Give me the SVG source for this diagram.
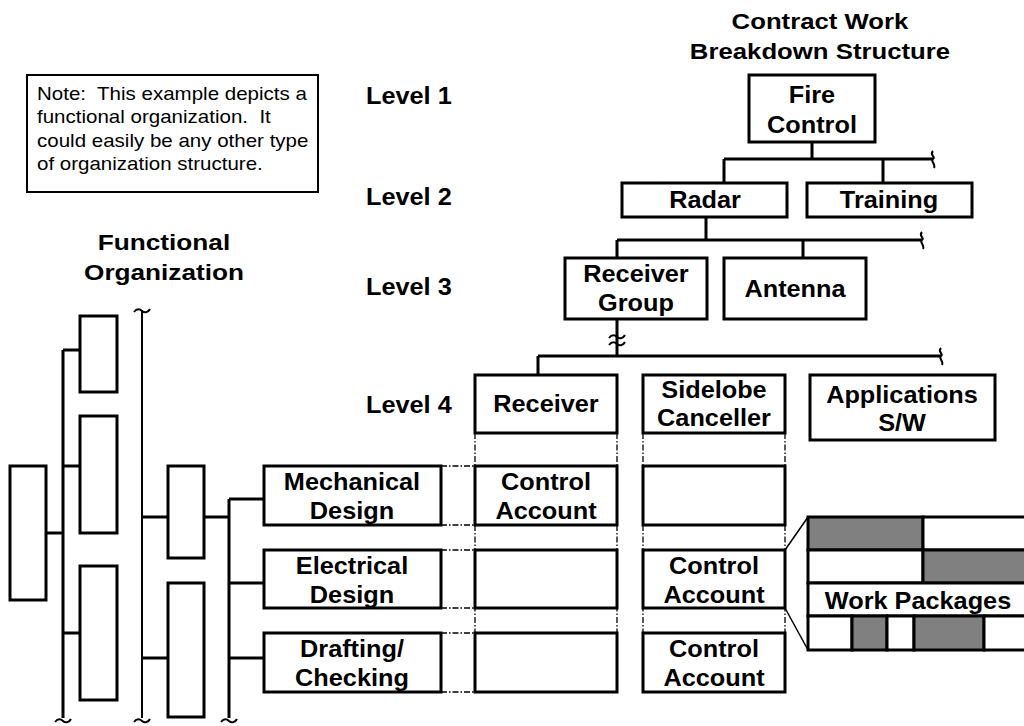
<svg xmlns="http://www.w3.org/2000/svg" width="1024" height="726" viewBox="0 0 1024 726">
<style>
.bx{fill:#fff;stroke:#000;stroke-width:3}
.nb{fill:#fff;stroke:#000;stroke-width:2}
.ln{fill:none;stroke:#000;stroke-width:3}
.tn{fill:none;stroke:#000;stroke-width:2}
.sq{fill:none;stroke:#000;stroke-width:2}
.dd{fill:none;stroke:#000;stroke-width:1.3;stroke-dasharray:6 2 1.5 2}
.gr{fill:#808080;stroke:#000;stroke-width:3}
.wp{fill:#fff;stroke:#000;stroke-width:3}
.t{font-family:"Liberation Sans",Arial,sans-serif;font-weight:bold;font-size:23px;text-anchor:middle}
.h{font-family:"Liberation Sans",Arial,sans-serif;font-weight:bold;font-size:22px;text-anchor:middle}
.lv{font-family:"Liberation Sans",Arial,sans-serif;font-weight:bold;font-size:23px}
.nt{font-family:"Liberation Sans",Arial,sans-serif;font-size:18px}
</style>
<rect width="1024" height="726" fill="#fff"/>

<!-- connectors -->
<g id="connectors">
  <!-- WBS -->
  <path class="ln" d="M812,142V159M724,159H933M724,159V183M883,159V183"/>
  <path class="sq" d="M933,151c-4,4 3,6 0,8c-3,2 3,5 1,9"/>
  <path class="ln" d="M706,217V240M617,240H922M617,240V258M803,240V258"/>
  <path class="sq" d="M922,232c-4,4 3,6 0,8c-3,2 3,5 1,9"/>
  <path class="ln" d="M617,319V356M538,356H941M538,356V375"/>
  <path class="sq" d="M609,338c3,-4 6,-3 8,-1s6,2 8,-2M609,345c3,-4 6,-3 8,-1s6,2 8,-2"/>
  <path class="sq" d="M941,348c-4,4 3,6 0,8c-3,2 3,5 1,9"/>
  <!-- dash-dot guides -->
  <path class="dd" d="M475,433V692M617,433V692M643,433V692M785,433V692"/>
  <path class="dd" d="M441,466H475M441,525H475M441,550H475M441,608H475M441,633H475M441,692H475"/>
  <!-- work package callout -->
  <path fill="none" stroke="#000" stroke-width="1.5" d="M785,550L808,517M785,608L808,650"/>
  <!-- functional organization -->
  <path class="ln" d="M46,533H63M63,350V718M63,350H80M63,466H80M63,633H80"/>
  <path class="tn" d="M142,310V718"/>
  <path class="ln" d="M142,517H168M142,658H168M204,517H229M229,499V718M229,499H264M229,583H264M229,658H264"/>
  <path class="sq" d="M134,312c3,-4 6,-3 8,-1s6,2 8,-2"/>
  <path class="sq" d="M55,722c3,-4 6,-3 8,-1s6,2 8,-2M134,722c3,-4 6,-3 8,-1s6,2 8,-2M221,722c3,-4 6,-3 8,-1s6,2 8,-2"/>
</g>

<!-- note -->
<g id="note">
  <rect class="nb" x="27" y="75" width="291" height="117"/>
  <text class="nt" xml:space="preserve" transform="translate(37,100) scale(1.14,1)">Note:  This example depicts a</text>
  <text class="nt" xml:space="preserve" transform="translate(37,123) scale(1.14,1)">functional organization.  It</text>
  <text class="nt" transform="translate(37,147) scale(1.14,1)">could easily be any other type</text>
  <text class="nt" transform="translate(37,170) scale(1.14,1)">of organization structure.</text>
</g>

<!-- titles -->
<g id="title-cwbs">
  <text class="h" transform="translate(820,29) scale(1.17,1)">Contract Work</text>
  <text class="h" transform="translate(820,59) scale(1.17,1)">Breakdown Structure</text>
</g>
<g id="title-func">
  <text class="h" transform="translate(164,250) scale(1.19,1)">Functional</text>
  <text class="h" transform="translate(164,280) scale(1.19,1)">Organization</text>
</g>

<!-- levels -->
<g id="levels">
  <text class="lv" transform="translate(366,104) scale(1.1,1)">Level 1</text>
  <text class="lv" transform="translate(366,205) scale(1.1,1)">Level 2</text>
  <text class="lv" transform="translate(366,295) scale(1.1,1)">Level 3</text>
  <text class="lv" transform="translate(366,413) scale(1.1,1)">Level 4</text>
</g>

<!-- WBS nodes -->
<g id="fire-control">
  <rect class="bx" x="749" y="75" width="126" height="67"/>
  <text class="t" transform="translate(812,103) scale(1.1,1)">Fire</text>
  <text class="t" transform="translate(812,133) scale(1.1,1)">Control</text>
</g>
<g id="radar">
  <rect class="bx" x="622" y="183" width="165" height="34"/>
  <text class="t" transform="translate(705,208) scale(1.1,1)">Radar</text>
</g>
<g id="training">
  <rect class="bx" x="807" y="183" width="165" height="34"/>
  <text class="t" transform="translate(889,208) scale(1.1,1)">Training</text>
</g>
<g id="receiver-group">
  <rect class="bx" x="565" y="258" width="142" height="61"/>
  <text class="t" transform="translate(636,282) scale(1.1,1)">Receiver</text>
  <text class="t" transform="translate(636,311) scale(1.1,1)">Group</text>
</g>
<g id="antenna">
  <rect class="bx" x="724" y="258" width="142" height="61"/>
  <text class="t" transform="translate(795,297) scale(1.1,1)">Antenna</text>
</g>
<g id="receiver">
  <rect class="bx" x="475" y="375" width="142" height="58"/>
  <text class="t" transform="translate(546,412) scale(1.1,1)">Receiver</text>
</g>
<g id="sidelobe-canceller">
  <rect class="bx" x="643" y="375" width="142" height="58"/>
  <text class="t" transform="translate(714,398) scale(1.1,1)">Sidelobe</text>
  <text class="t" transform="translate(714,426) scale(1.1,1)">Canceller</text>
</g>
<g id="applications-sw">
  <rect class="bx" x="810" y="375" width="185" height="65"/>
  <text class="t" transform="translate(902,403) scale(1.1,1)">Applications</text>
  <text class="t" transform="translate(902,431) scale(1.1,1)">S/W</text>
</g>

<!-- functional departments -->
<g id="mechanical-design">
  <rect class="bx" x="264" y="466" width="177" height="59"/>
  <text class="t" transform="translate(352,490) scale(1.1,1)">Mechanical</text>
  <text class="t" transform="translate(352,519) scale(1.1,1)">Design</text>
</g>
<g id="electrical-design">
  <rect class="bx" x="264" y="550" width="177" height="58"/>
  <text class="t" transform="translate(352,574) scale(1.1,1)">Electrical</text>
  <text class="t" transform="translate(352,603) scale(1.1,1)">Design</text>
</g>
<g id="drafting-checking">
  <rect class="bx" x="264" y="633" width="177" height="59"/>
  <text class="t" transform="translate(352,657) scale(1.1,1)">Drafting/</text>
  <text class="t" transform="translate(352,686) scale(1.1,1)">Checking</text>
</g>

<!-- control account grid -->
<g id="ca-receiver-mech">
  <rect class="bx" x="475" y="466" width="142" height="59"/>
  <text class="t" transform="translate(546,490) scale(1.1,1)">Control</text>
  <text class="t" transform="translate(546,519) scale(1.1,1)">Account</text>
</g>
<g id="ca-receiver-elec"><rect class="bx" x="475" y="550" width="142" height="58"/></g>
<g id="ca-receiver-draft"><rect class="bx" x="475" y="633" width="142" height="59"/></g>
<g id="ca-sidelobe-mech"><rect class="bx" x="643" y="466" width="142" height="59"/></g>
<g id="ca-sidelobe-elec">
  <rect class="bx" x="643" y="550" width="142" height="58"/>
  <text class="t" transform="translate(714,574) scale(1.1,1)">Control</text>
  <text class="t" transform="translate(714,603) scale(1.1,1)">Account</text>
</g>
<g id="ca-sidelobe-draft">
  <rect class="bx" x="643" y="633" width="142" height="59"/>
  <text class="t" transform="translate(714,657) scale(1.1,1)">Control</text>
  <text class="t" transform="translate(714,686) scale(1.1,1)">Account</text>
</g>

<!-- work packages -->
<g id="work-packages">
  <rect class="gr" x="808" y="517" width="115" height="33"/>
  <rect class="wp" x="923" y="517" width="110" height="33"/>
  <rect class="wp" x="808" y="550" width="115" height="33"/>
  <rect class="gr" x="923" y="550" width="110" height="33"/>
  <rect class="wp" x="808" y="583" width="225" height="33"/>
  <text class="t" transform="translate(918,609) scale(1.1,1)">Work Packages</text>
  <rect class="wp" x="808" y="616" width="44" height="34"/>
  <rect class="gr" x="852" y="616" width="35" height="34"/>
  <rect class="wp" x="887" y="616" width="27" height="34"/>
  <rect class="gr" x="914" y="616" width="70" height="34"/>
  <rect class="wp" x="984" y="616" width="49" height="34"/>
</g>

<!-- functional organization boxes -->
<g id="org-head"><rect class="bx" x="10" y="466" width="36" height="134"/></g>
<g id="org-a"><rect class="bx" x="80" y="316" width="37" height="76"/></g>
<g id="org-b"><rect class="bx" x="80" y="416" width="37" height="117"/></g>
<g id="org-c"><rect class="bx" x="80" y="566" width="37" height="134"/></g>
<g id="org-d"><rect class="bx" x="168" y="466" width="36" height="92"/></g>
<g id="org-e"><rect class="bx" x="168" y="583" width="36" height="134"/></g>
</svg>
